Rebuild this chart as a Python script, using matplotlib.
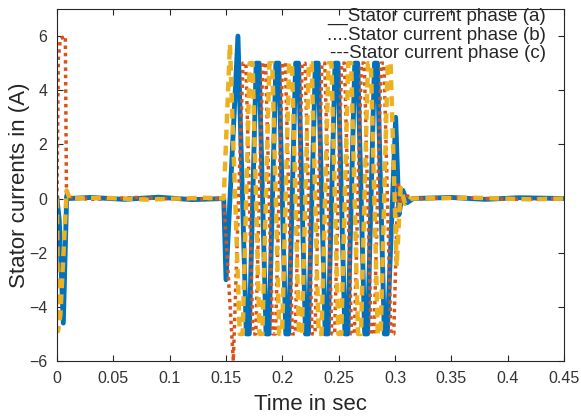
import matplotlib
matplotlib.use("Agg")
import matplotlib.pyplot as plt

plt.rcParams['font.family'] = ['Liberation Sans', 'DejaVu Sans']

# Phase (a) - vertices (time s, current A)
t_a = [0, 0.002, 0.0056, 0.0086, 0.010, 0.03, 0.06, 0.09, 0.12, 0.148, 0.150, 0.1606,
       0.16935, 0.1781, 0.18685, 0.1956, 0.20435, 0.2131, 0.22185, 0.2306, 0.23935,
       0.2481, 0.25685, 0.2656, 0.27435, 0.2831, 0.29185, 0.3006, 0.3035, 0.307,
       0.311, 0.316, 0.35, 0.38, 0.41, 0.45]
i_a = [0, -0.8, -4.6, 0.1, 0, 0.04, -0.03, 0.05, -0.04, 0, -3.0, 6.0,
       -5, 5, -5, 5, -5, 5, -5, 5, -5,
       5, -5, 5, -5, 5, -5, 3.0, -0.6, 0.3,
       -0.15, 0, 0.04, -0.03, 0.03, 0]

# Phase (b)
t_b = [0, 0.0012, 0.003, 0.0074, 0.0084, 0.0098, 0.03, 0.07, 0.11, 0.148, 0.1565,
       0.1664, 0.17515, 0.1839, 0.19265, 0.2014, 0.21015, 0.2189, 0.22765, 0.2364,
       0.24515, 0.2539, 0.26265, 0.2714, 0.28015, 0.2889, 0.29765, 0.3025, 0.306,
       0.311, 0.316, 0.36, 0.40, 0.45]
i_b = [0, 5.2, 5.9, 6.0, 0.2, 0.05, -0.03, 0.04, -0.03, 0, -6.0,
       5, -5, 5, -5, 5, -5, 5, -5, 5,
       -5, 5, -5, 5, -5, 5, -5, 0.6, -0.2,
       0.1, 0, 0.03, -0.03, 0]

# Phase (c)
t_c = [0, 0.0008, 0.003, 0.0086, 0.0095, 0.011, 0.04, 0.08, 0.13, 0.148, 0.1535,
       0.1635, 0.1723, 0.181, 0.1898, 0.1985, 0.2073, 0.216, 0.2248, 0.2335,
       0.2423, 0.251, 0.2598, 0.2685, 0.2773, 0.286, 0.2948, 0.3015, 0.305,
       0.309, 0.314, 0.37, 0.42, 0.45]
i_c = [0, -4.9, -4.3, 0.3, 0.2, 0, 0.03, -0.04, 0.03, 0, 5.7,
       -5, 5, -5, 5, -5, 5, -5, 5, -5,
       5, -5, 5, -5, 5, -5, 5, -2.5, 0.4,
       -0.2, 0, 0.03, -0.03, 0]

# Saturated (+/-5 A) peaks are flat-topped in the picture; hold duration (s)
clip_level = 5
hold = 0.0026

x_ticks = [0, 0.05, 0.1, 0.15, 0.2, 0.25, 0.3, 0.35, 0.4, 0.45]
x_tick_labels = ['0', '0.05', '0.1', '0.15', '0.2', '0.25', '0.3', '0.35', '0.4', '0.45']
y_ticks = [-6, -4, -2, 0, 2, 4, 6]
legend_texts = ['__Stator current phase (a)',
                '....Stator current phase (b)',
                '---Stator current phase (c)']


def flat_tops(ts, vs):
    xs, ys = [], []
    for t, v in zip(ts, vs):
        if abs(v) == clip_level:
            xs += [t - hold / 2, t + hold / 2]
            ys += [v, v]
        else:
            xs.append(t)
            ys.append(v)
    return xs, ys


W, H = 581, 418
fig = plt.figure(figsize=(W / 100, H / 100), dpi=100)
ax = fig.add_axes([57 / W, 1 - 361 / H, (564 - 57) / W, (361 - 9) / H])

xa, ya = flat_tops(t_a, i_a)
xb, yb = flat_tops(t_b, i_b)
xc, yc = flat_tops(t_c, i_c)
ax.plot(xa, ya, color='#0072BD', lw=3.5, linestyle='-')
ax.plot(xb, yb, color='#D95319', lw=2.5, linestyle=(0, (1, 1.1)))
ax.plot(xc, yc, color='#EDB120', lw=3.2, linestyle=(0, (2.2, 1.4)))

ax.set_xlim(0, 0.45)
ax.set_ylim(-6, 7)
ax.set_xticks(x_ticks)
ax.set_xticklabels(x_tick_labels)
ax.set_yticks(y_ticks)

edge = '#262626'
for s in ax.spines.values():
    s.set_color(edge)
    s.set_linewidth(0.8)
ax.tick_params(direction='in', top=True, right=True, length=4, width=0.8,
               colors=edge, labelsize=11.5, labelcolor='#333333', pad=7)

ax.set_xlabel('Time in sec', fontsize=16, color='#262626', labelpad=6)
ax.set_ylabel('Stator currents in (A)', fontsize=16, color='#262626', labelpad=-1)

rows_y = [16, 35, 54]
for txt, yy in zip(legend_texts, rows_y):
    fig.text(546 / W, 1 - yy / H, txt, ha='right', va='center', fontsize=13.5,
             color='#262626')

fig.savefig('out.png', dpi=100)
